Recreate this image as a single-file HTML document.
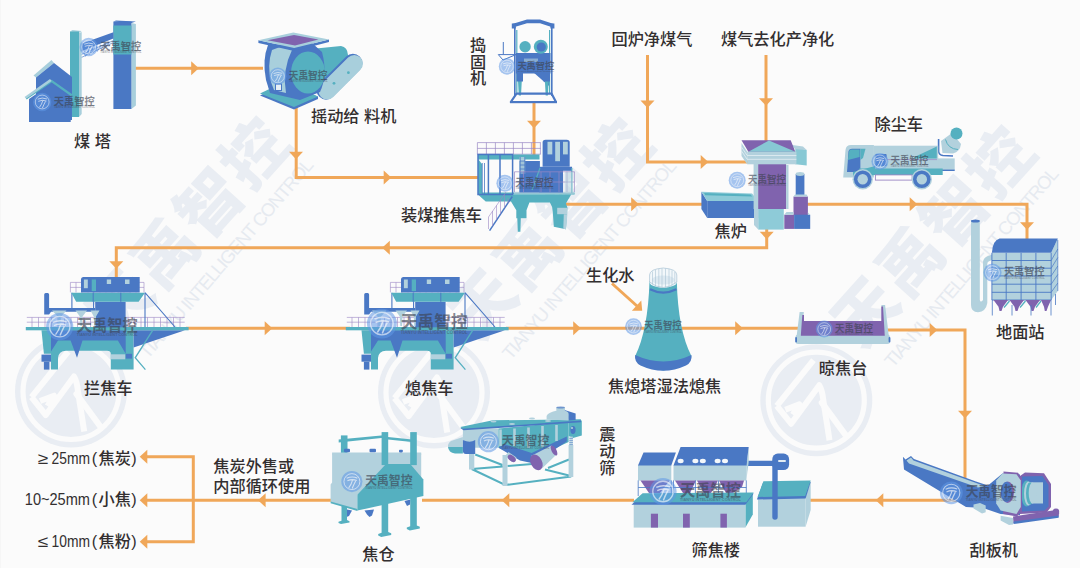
<!DOCTYPE html>
<html lang="zh-CN">
<head>
<meta charset="utf-8">
<title>炼焦工艺流程</title>
<style>
html,body{margin:0;padding:0;background:#fbfbfb;}
body{width:1080px;height:568px;overflow:hidden;}
svg{display:block;}
.lb{font-family:"Liberation Sans","Noto Sans CJK SC",sans-serif;font-size:16.2px;font-weight:500;fill:#332f30;}
.lt{font-weight:400;}
.b{fill:#4a78c4}.t{fill:#55b0c0}.l{fill:#b2d1dd}.p{fill:#8063ae}
.bs{fill:none;stroke:#4a78c4}.ts{fill:none;stroke:#55b0c0}.ps{fill:none;stroke:#9a86c4}.ls{fill:none;stroke:#b2d1dd}
.ln{fill:none;stroke:#f0a759;stroke-width:3;stroke-linejoin:miter;}
.ah{fill:#f0a759;}
.wmt{font-family:"Liberation Sans","Noto Sans CJK SC",sans-serif;font-weight:900;font-size:64px;letter-spacing:3px;fill:#e9edf3;}
.wme{font-family:"Liberation Sans",sans-serif;font-size:18.5px;fill:#e6eaf0;}
.sm{font-family:"Liberation Sans","Noto Sans CJK SC",sans-serif;font-weight:700;font-size:9.8px;fill:#3d4250;opacity:.62;}
.sme{font-family:"Liberation Sans",sans-serif;font-weight:700;font-size:2.6px;fill:#3d4250;opacity:.45;}
</style>
</head>
<body>
<svg width="1080" height="568" viewBox="0 0 1080 568">
<defs>
  <g id="wm">
    <circle cx="0" cy="0" r="56" fill="#e9edf3"/>
    <circle cx="0" cy="0" r="48" fill="none" stroke="#fbfbfb" stroke-width="5.2"/>
    <path d="M-39.5,5.7 L-2.8,-40 M-39.5,5.7 L-25.2,23.5 L3,-15 Q6,-10 7,0 L13.2,40 M-31,9.5 L-17,4.2 L-23.5,14.5" fill="none" stroke="#fbfbfb" stroke-width="6" stroke-linejoin="round"/>
    <path d="M5.5,2.5 L29.7,35.5" fill="none" stroke="#fbfbfb" stroke-width="6.2" stroke-linecap="round"/>
    <g transform="translate(44.9,-49.3) rotate(-48)">
      <text class="wmt" x="0" y="0">天禹智控</text>
      <text class="wme" transform="translate(8.2,35.5) rotate(-1.4)" x="0" y="0" textLength="256" lengthAdjust="spacing">TIANYU INTELLIGENT CONTROL</text>
    </g>
  </g>
  <g id="swm">
    <circle cx="0" cy="0" r="8.5" fill="#5f97e6" opacity=".55"/>
    <circle cx="0" cy="0" r="6.4" fill="none" stroke="#fbfbfb" stroke-width=".8" opacity=".6"/>
    <path d="M-4.2,-2.6 Q0,-4.6 4.4,-2.8 M-3.6,-0.6 Q0,-2.4 4,-0.9 M0.6,-1.4 Q-0.5,2.5 -2.6,5 M3,-0.5 Q1.2,3 0.2,5.6" stroke="#fbfbfb" stroke-width=".9" fill="none" opacity=".65"/>
    <text class="sm" x="10.7" y="2.7" textLength="38" lengthAdjust="spacingAndGlyphs">天禹智控</text>
    <text class="sme" x="10.7" y="6" textLength="38" lengthAdjust="spacingAndGlyphs">TIANYU INTELLIGENT CONTROL</text>
  </g>
  <path id="ar" d="M0.3,0 L-7.3,-7 L-7.3,7 Z" class="ah"/>
</defs>

<rect x="0" y="0" width="1080" height="568" fill="#fbfbfb"/>
<rect x="0" y="0" width="1" height="568" fill="#f6f6f6"/>

<!-- big watermarks -->
<g id="watermarks">
  <use href="#wm" x="71" y="391.5"/>
  <use href="#wm" x="434" y="392.5"/>
  <use href="#wm" x="816.3" y="400.2"/>
</g>

<!-- flow lines -->
<g id="lines">
  <path class="ln" d="M135,68.3 H263"/>
  <path class="ln" d="M296.2,106 V177.5 H478"/>
  <path class="ln" d="M534,103 V156"/>
  <path class="ln" d="M647.5,55 V162 H748"/>
  <path class="ln" d="M766,55 V142"/>
  <path class="ln" d="M566,204.3 H703"/>
  <path class="ln" d="M806,204.3 H1027 V240"/>
  <path class="ln" d="M766.7,228 V247.7 H116.3 V279"/>
  <path class="ln" d="M186,328.3 H350"/>
  <path class="ln" d="M506,328.3 H800"/>
  <path class="ln" d="M886,330 H965 V478"/>
  <path class="ln" d="M985,500.3 H808"/>
  <path class="ln" d="M634,500.3 H422"/>
  <path class="ln" d="M332,500.3 H193.3"/>
  <path class="ln" d="M146,456.7 H193.3 V541.7 H146"/>
  <path class="ln" d="M146,500.3 H193.3"/>
  <path class="ln" d="M612,283.5 L637,306"/>
</g>
<g id="arrows">
  <use href="#ar" transform="translate(198.5,68.3)"/>
  <use href="#ar" transform="translate(296,159) rotate(90)"/>
  <use href="#ar" transform="translate(391,177.5)"/>
  <use href="#ar" transform="translate(534,128) rotate(90)"/>
  <use href="#ar" transform="translate(647.5,107.7) rotate(90)"/>
  <use href="#ar" transform="translate(708,162)"/>
  <use href="#ar" transform="translate(766,105.5) rotate(90)"/>
  <use href="#ar" transform="translate(638.5,204.3)"/>
  <use href="#ar" transform="translate(917,204.3)"/>
  <use href="#ar" transform="translate(1027,229.5) rotate(90)"/>
  <use href="#ar" transform="translate(766.7,239) rotate(90)"/>
  <use href="#ar" transform="translate(382.5,247.7) rotate(180)"/>
  <use href="#ar" transform="translate(116.3,268.5) rotate(90)"/>
  <use href="#ar" transform="translate(272,328.3)"/>
  <use href="#ar" transform="translate(580.5,328.3)"/>
  <use href="#ar" transform="translate(742.5,328.3)"/>
  <use href="#ar" transform="translate(937,330)"/>
  <use href="#ar" transform="translate(965,418) rotate(90)"/>
  <use href="#ar" transform="translate(876,500.3) rotate(180)"/>
  <use href="#ar" transform="translate(502,500.3) rotate(180)"/>
  <use href="#ar" transform="translate(258.3,500.3) rotate(180)"/>
  <use href="#ar" transform="translate(140,456.7) rotate(180)"/>
  <use href="#ar" transform="translate(140,500.3) rotate(180)"/>
  <use href="#ar" transform="translate(140,541.7) rotate(180)"/>
  <use href="#ar" transform="translate(642,310.5) rotate(42)"/>
</g>

<!-- EQUIPMENT -->
<g id="equip">
<!-- coal tower -->
<g id="coaltower">
  <polygon points="131.4,23 135.9,24 135.9,105.5 131.4,109" fill="#a8cfdc"/>
  <rect x="113.4" y="21.6" width="18" height="87.4" fill="#4a78c4"/>
  <rect x="113.4" y="25.5" width="18" height="29" fill="#55b0c0"/>
  <polygon points="113.4,21.6 116,20.5 135.9,21.5 131.4,23" fill="#4a78c4"/>
  <polygon points="81.3,43.8 113.4,32.2 113.4,38.5 81.3,51.2" fill="#4a78c4"/>
  <path d="M81.3,54.5 L113.4,40.5 M81.3,57.5 L113.4,42.5 M84,50.5 l1.5,6 M88,49 l1.5,6 M92,47.5 l1.5,5.5 M96,46 l1.5,5.5 M100,44.5 l1.5,5 M104,43 l1.5,5 M108,41.5 l1.5,4.5 M86,55.5 l2.5,-6 M90,54 l2.5,-6 M94,52 l2.5,-5.5 M98,50.5 l2.5,-5.5 M102,48.5 l2.5,-5 M106,47 l2.5,-5" stroke="#5b86cc" stroke-width=".7" fill="none"/>
  <polygon points="79,33 81.7,32 81.7,114 79,117" fill="#a8cfdc"/>
  <polygon points="70,31.5 72.5,30 81.7,31 79,33" fill="#a8cfdc"/>
  <rect x="70" y="31.5" width="9" height="85.5" fill="#55b0c0"/>
  <polygon points="33.5,75.5 51.5,60 54,63 36,77.5" fill="#a8cfdc"/>
  <polygon points="36,77.5 54,63 72,77 72,120 36,120" fill="#4a78c4"/>
  <polygon points="29,99 51.7,83.5 70.7,97.5 70.7,122 29,122" fill="#4a78c4"/>
  <path d="M26,98.5 L51.7,81 L72,95.5" stroke="#55b0c0" stroke-width="2.2" fill="none"/>
  <polygon points="24.5,97 50,79 51.7,81 26.5,98.5" fill="#a8cfdc"/>
</g>
<!-- feeder -->
<g id="feeder">
  <!-- motor cylinder -->
  <path d="M316,48.5 L341,46 Q347.5,47 348,55 L350,80 L322,92 Z" fill="#55b0c0"/>
  <!-- belt guard -->
  <g transform="translate(340.7,77.2) rotate(-45)">
    <rect x="-29" y="-10.7" width="57" height="19" rx="9.5" fill="#4a78c4"/>
    <rect x="-27.9" y="-8.7" width="55.8" height="17.4" rx="8.7" fill="#a8cfdc"/>
  </g>
  <circle cx="348.4" cy="72.7" r="1.4" fill="#55b0c0"/>
  <circle cx="334" cy="83.3" r="1.4" fill="#55b0c0"/>
  <!-- base -->
  <polygon points="260,95.5 294,109.5 318,99 318,96.5 284,84" fill="#4a78c4"/>
  <polygon points="260,93.5 294,107 318,96.5 284,82" fill="#55b0c0"/>
  <!-- body -->
  <path d="M268,45 Q262,60 266,80 L270,93 L300,100 L320,92 Q328,75 322,52 L312,43 Z" fill="#4a78c4"/>
  <path d="M272,50 Q267,65 271,82 L274,90 L286,93 Q282,70 292,50 L280,47 Z" fill="#a8cfdc"/>
  <rect x="275.5" y="84" width="6" height="6.5" fill="#e8f0f6" stroke="#4a78c4" stroke-width="1"/>
  <ellipse cx="308" cy="72.5" rx="17" ry="21" fill="#55b0c0"/>
  <!-- top flange -->
  <polygon points="258.4,40.3 294.2,48 329,39.4 329,42 294.2,51 258.4,43" fill="#4a78c4"/>
  <polygon points="258.4,40.3 293.3,32.6 329,39.4 294.2,48" fill="#a8cfdc"/>
  <polygon points="267.5,40.3 294,35 318.5,39.5 295,45.6" fill="#8063ae"/>
</g>
<!-- tamping machine -->
<g id="tamper">
  <path class="bs" stroke-width="1.6" d="M514.8,27 V96 M551.8,27 V96"/>
  <path class="ts" stroke-width="1.2" d="M516.8,30 V94 M549.6,30 V94"/>
  <path class="b" d="M512.2,27.8 V24 L527,19.6 H540 L553.8,24 V27.8 L540,23.3 H527 Z"/>
  <rect class="b" x="511.8" y="23.5" width="4" height="5"/><rect class="b" x="550.4" y="23.5" width="4" height="5"/>
  <path class="bs" stroke-width="1" d="M503.3,42 V54.4 M498.3,54.6 H516 L503,60 Z"/>
  <rect class="b" x="515.9" y="53" width="34.6" height="20.5"/>
  <circle class="t" cx="525.1" cy="46.8" r="5.7"/>
  <circle class="t" cx="540.8" cy="46.8" r="7"/><circle class="b" cx="541.3" cy="47" r="4.6"/>
  <rect class="l" x="524" y="58.5" width="14" height="3.5" opacity=".6"/>
  <path class="b" d="M533,72 L549,72 L549,86 Z"/>
  <path class="t" d="M517.6,73.5 h4.6 l-1.2,22 h-2.2 Z M544.5,73.5 h4.6 l-1.2,22 h-2.2 Z"/>
  <rect class="b" x="516.5" y="72.5" width="6.5" height="9"/><rect class="b" x="543.5" y="72.5" width="6.5" height="9"/>
  <path class="bs" stroke-width="2.2" stroke-linejoin="round" d="M516.5,93.6 H551.5 L556,102 H510.8 Z"/>
  <rect class="b" x="510" y="101" width="47" height="2.2"/>
</g>
<!-- coal charging / pushing car -->
<g id="charger">
  <!-- upper railing -->
  <path class="ps" stroke-width=".7" d="M477.4,142.6 H540.7 M477.4,148.4 H540.7 M477.4,154.2 H540.7 M477.4,142.6 V154.2 M486.4,142.6 V154.2 M495.4,142.6 V154.2 M504.4,142.6 V154.2 M513.4,142.6 V154.2 M522.4,142.6 V154.2 M531.4,142.6 V154.2 M540.4,142.6 V154.2"/>
  <!-- platform teal -->
  <path class="t" d="M478.5,194.6 H574.6 V192.6 H478.5 Z"/>
  <path class="t" d="M477.9,194.6 L485.7,201.5 H511 L516.3,210.3 V218.2 H517.3 L517.8,231.7 H520.4 L520.8,218.2 H526.5 V210.3 L529.4,202.5 H549.9 Q552.5,206 552.8,212 L553.8,226.8 L565.9,229.2 L567.4,207.4 L565.9,203.5 L571.2,194.6 Z"/>
  <rect class="l" x="557.2" y="207.8" width="10.2" height="6.4"/>
  <polygon class="l" points="563.8,214.2 567.4,214.2 566,229.2 563.3,228.7"/>
  <rect class="l" x="513.9" y="191.8" width="60.6" height="1.9"/>
  <!-- left frame -->
  <rect class="t" x="478" y="154.5" width="61.5" height="5"/>
  <path class="t" d="M478,159 l4,5 V194 h-4 Z"/>
  <path class="bs" stroke-width="1.5" d="M478,154.5 V194.6 H512.6 V154.5 Z M488.4,155 V194 M500,155 V194"/>
  <path class="bs" stroke-width=".8" d="M482.3,163 V194 M484.5,163 V194"/>
  <!-- middle block -->
  <rect class="b" x="519.4" y="161" width="20.5" height="31.5"/>
  <rect class="b" x="539.5" y="170" width="23.5" height="22.6"/>
  <rect class="l" x="519.4" y="157" width="5.8" height="17" opacity=".85"/>
  <path class="bs" stroke-width=".8" d="M520.2,157 V192 M524.8,157 V192 M520,161 h5 M520,165 h5 M520,169 h5 M520,173 h5 M520,177 h5 M520,181 h5 M520,185 h5"/>
  <!-- cabin -->
  <path class="b" d="M542.6,142.5 Q542.6,139.7 545.5,139.7 H566.7 Q569.7,139.7 569.7,142.5 V166.8 H542.6 Z"/>
  <rect class="b" x="539.5" y="166.8" width="32.5" height="4"/>
  <rect class="l" x="547.5" y="141.8" width="4.8" height="12.6"/><rect class="l" x="555.2" y="141.8" width="4.8" height="19.4"/><rect class="l" x="563" y="141.8" width="4.8" height="12.6"/>
  <path class="ts" stroke-width="1.2" d="M540,168 L532,190 M571.8,168 V192.6"/>
  <!-- lower railing -->
  <path class="ps" stroke-width=".7" d="M514.5,171.8 H574.6 M514.5,182 H574.6 M514.5,171.8 V192 M523.5,171.8 V192 M541,171.8 V192 M550,171.8 V192 M559,171.8 V192 M567,171.8 V192 M574.4,171.8 V192"/>
  <rect class="l" x="565" y="172" width="8" height="20" opacity=".5"/>
  <!-- stairs -->
  <path class="bs" stroke-width="1.5" d="M512.3,196.5 L489.6,230.7"/>
  <path class="ps" stroke-width=".6" d="M506,192 L488.5,217 V229 M492.5,211 V226 M496.5,205.5 V220 M500.5,200 V214 M504.5,194.5 V208 M508,198 V203"/>
</g>
<!-- coke oven -->
<g id="oven">
  <!-- trough -->
  <polygon class="b" points="701.4,191.8 707.2,201 707.2,218 701.4,209"/>
  <polygon fill="#8ecbd8" points="701.4,191.8 752,193.5 758.2,201 707.2,201"/>
  <polygon fill="#55b0c0" points="704,193 750.5,194.6 752.3,196.6 705.3,195.2"/>
  <rect class="b" x="707.2" y="201" width="51" height="17"/>
  <!-- base -->
  <rect fill="#8ecbd8" x="758.2" y="209" width="25.6" height="20.6"/>
  <polygon class="l" points="754,205 758.2,209 758.2,229.6 754,225"/>
  <!-- main column -->
  <rect class="l" x="753.6" y="163" width="5" height="46"/>
  <rect class="p" x="758.2" y="163.5" width="27.9" height="45.5"/>
  <rect class="l" x="786.1" y="165" width="2.4" height="44"/>
  <!-- right wing -->
  <polygon fill="#87c8d4" points="795.3,147.2 806.7,150 806.7,165.5 795.3,164.3"/>
  <polygon class="l" points="790.7,144.8 803,146.6 806.7,150 795.3,149.2"/>
  <!-- entablature -->
  <polygon class="l" points="741.5,143 747.2,151.7 747.2,164.3 741.5,156"/>
  <rect class="l" x="747.2" y="151.7" width="49.2" height="12.6"/>
  <path d="M747.2,155.5 H796.4 M747.2,159.3 H796.4 M741.5,147 L747.2,155.5 M741.5,151 L747.2,159.3" stroke="#e4eff4" stroke-width=".8" fill="none"/>
  <!-- roof -->
  <polygon class="p" points="741.5,140.3 790.7,140.3 795.3,151.7 748.4,151.7"/>
  <polygon fill="#87c8d4" points="748.4,151.7 769,140.5 795.3,151.7"/>
  
  <!-- cylinder -->
  <rect class="b" x="795.7" y="174" width="8.7" height="22"/>
  <ellipse class="l" cx="800.05" cy="174" rx="4.35" ry="1.9"/>
  <!-- purple box -->
  <rect class="p" x="793.5" y="196.5" width="14.4" height="18.5"/>
  <polygon class="l" points="793.5,196.5 795,194.5 806.5,194.5 807.9,196.5"/>
  <!-- bottom boxes -->
  <rect class="p" x="784.3" y="214.7" width="9.8" height="14.2"/>
  <rect class="b" x="794.1" y="214.7" width="16.1" height="14.2"/>
  <polygon class="l" points="784.3,214.7 786.5,212 793.5,212 793.5,214.7"/>
  <polygon class="l" points="807.9,212.6 810.2,214.7 807.9,214.7"/>
</g>
<!-- dust truck -->
<g id="truck">
  <!-- cannon -->
  <path class="l" d="M941,141 L952,133 L961,144 Q960,152 953,153.5 L942.5,153 Z"/>
  <path class="ts" stroke-width="1" d="M945.5,139.5 Q948,149 958,149.5"/>
  <circle class="t" cx="956.5" cy="133.5" r="6"/>
  <path class="bs" stroke-width="1.6" d="M938.6,139 V151.5 Q939,155 943,155.5 L953,156"/>
  <!-- rear platform -->
  <rect class="l" x="936" y="158.4" width="18.7" height="11.6"/>
  <rect class="b" x="936" y="169.6" width="18.7" height="1.4"/>
  <!-- body -->
  <rect class="l" x="873.5" y="145.7" width="64.7" height="23.5"/>
  <polygon class="t" points="914.5,157 936.8,146.4 936.8,158.6 914.5,158.6"/>
  <rect class="b" x="875.4" y="153.9" width="11.2" height="12" rx="1"/>
  <path class="ps" stroke-width=".7" d="M887,159.6 H937"/>
  <!-- cab -->
  <path class="l" d="M843.2,177.5 L845.5,150 Q846,145 851,145 H873.9 V177.5 Z"/>
  <path class="b" d="M847,171.9 L848.5,151.5 Q849,148.7 852,148.7 H860.4 V171.9 Z"/>
  <path class="t" d="M847.9,160 L848.9,151.8 Q849.3,149.6 851.5,149.6 H859.6 V157 Z"/>
  <polygon class="t" points="860.4,148.7 865.5,148.7 863,158 860.4,160"/>
  <!-- teal stripe -->
  <path class="t" d="M859,168.6 H942.7 V174.9 H862 Z"/>
  <polygon class="t" points="853,172 875,166 875,175 853,178"/>
  <rect class="ps" x="875.4" y="174.9" width="36.7" height="5.2" stroke-width=".9" fill="#fbfbfb"/>
  <!-- wheels -->
  <circle cx="862.7" cy="179.3" r="10.2" fill="#b2d1dd"/><circle class="b" cx="862.7" cy="179.3" r="8.8"/><circle class="l" cx="862.7" cy="179.3" r="5.2"/>
  <circle cx="921.8" cy="179.3" r="10.2" fill="#b2d1dd"/><circle class="b" cx="921.8" cy="179.3" r="8.8"/><circle class="l" cx="921.8" cy="179.3" r="5.2"/>
</g>
<!-- ground station -->
<g id="ground">
  <!-- chimney -->
  <path class="l" d="M971,220.5 H979.8 V300 Q980.5,303 983,300 V262 Q983.5,257.5 988,256 L992,254.5 V260 L988.5,261.5 Q987.3,262 987.3,264 V303 Q986,311.5 978,312.3 Q971,312 971,305 Z"/>
  <ellipse class="b" cx="975.4" cy="220.9" rx="4.4" ry="1.5"/>
  <!-- front grid -->
  <rect class="l" x="991.9" y="252.8" width="59.3" height="47.2"/>
  <polygon class="l" points="1051.2,252.8 1057.8,238.5 1057.8,291 1051.2,300"/>
  <path class="bs" stroke-width=".9" d="M991.9,252.8 V300 M1006.2,252.8 V300 M1021.1,252.8 V300 M1035.9,252.8 V300 M1051.2,252.8 V300 M991.9,260.5 H1051.2 M991.9,268.2 H1051.2 M991.9,275.9 H1051.2 M991.9,284.2 H1051.2 M991.9,292.3 H1051.2 M991.9,300 H1051.2"/>
  <path class="bs" stroke-width=".7" d="M1051.2,260.5 L1057.8,249 M1051.2,268.2 L1057.8,257.5 M1051.2,275.9 L1057.8,266 M1051.2,284.2 L1057.8,274.5 M1051.2,292.3 L1057.8,283 M1057.8,240 V291"/>
  <!-- roof -->
  <path class="b" d="M991.9,252.8 Q992.5,240.5 999.5,238.5 H1057.8 L1051.2,252.8 Z"/>
  <!-- hoppers -->
  <polygon class="p" points="993.5,300 1008,300 1003,306.8 1001.5,311 999.5,311 998.5,306.8"/>
  <polygon class="p" points="1009.5,300 1024,300 1019,306.8 1017.5,311 1015.5,311 1014.5,306.8"/>
  <polygon class="p" points="1025.5,300 1040,300 1035,306.8 1033.5,311 1031.5,311 1030.5,306.8"/>
  <polygon class="p" points="1041,300 1051,300 1048,306.8 1046.5,311 1044.8,311 1044,306.8"/>
  <path class="ts" stroke-width="1.3" d="M1009.5,301 L1004,307.5 M1025.5,301 L1020,307.5 M1041,301 L1036,307.5"/>
  <path class="bs" stroke-width=".8" d="M992.3,300 V315.5 M1012,305 V315.5 M1031,305 V315.5 M1051,300 V315.5 M1055.5,294 V305"/>
</g>
<!-- quench tower -->
<g id="tower">
  <path class="t" d="M649.5,281 Q648,330 635.2,356 Q635,366 663.3,370.6 Q691.6,366 691.4,356 Q678,330 676.8,281 Z"/>
  <path class="b" d="M635.2,355 Q663.3,368 691.4,355 Q692.5,362 686,365.5 Q663.3,376 640.5,365.5 Q634,362 635.2,355 Z"/>
  <path class="bs" stroke-width="2.2" d="M650,289.3 Q663.2,296 676.4,289.3"/>
  <ellipse cx="663.2" cy="282" rx="13.6" ry="5.8" fill="#eef4f8"/>
  <path d="M649.6,275 V282 Q663.2,293 676.8,282 V275 Q676.8,269 663.2,268 Q649.6,269 649.6,275 Z" fill="#f2f7fa" stroke="#a9c3d4" stroke-width=".7"/>
  <ellipse cx="663.2" cy="280" rx="11.5" ry="4.6" fill="#dde9f1"/>
  <path d="M652.5,271.5 V284.5 M655.5,270 V286 M658.8,269 V287 M662,268.5 V287.5 M665.5,268.5 V287.5 M669,269 V287 M672,270.5 V285.5 M674.8,272 V284" stroke="#a9c3d4" stroke-width=".6" fill="none"/>
</g>
<!-- drying platform -->
<g id="platform">
  <rect class="l" x="795.6" y="334.5" width="94.3" height="9.4" rx="2.5"/>
  <rect class="b" x="795.2" y="337" width="1.8" height="5.5" rx=".9"/><rect class="b" x="888.6" y="337" width="1.8" height="5.5" rx=".9"/>
  <polygon class="l" points="799.6,312 803.8,312 802,336 796.6,336"/>
  <polygon class="l" points="881.4,305 885.1,305 888.8,336 884.5,336"/>
  <polygon class="p" points="802.3,315 804,315 804,321.1 881.3,321.1 881.3,306.5 883,306.5 884.8,335.8 800.8,335.8"/>
</g>
<!-- guide car template -->
<defs>
<g id="car">
  <!-- under-deck structure -->
  <path class="t" d="M41.5,330.3 H133.6 V369.6 H110.8 V354 Q110.8,350.7 107,350.7 H66 Q58.5,351 58,358 V369.6 H51 V353.8 H43.9 Z"/>
  <polygon class="b" points="51,330.3 125.7,330.3 125.7,353.8 117.9,340.5 82.5,340.5 77,357.8 70.6,340.5 58,340.5 51,351.5"/>
  <polygon class="b" points="133.6,330.3 185,330.3 133.6,347.5"/>
  <rect class="b" x="125.7" y="353.8" width="6.3" height="4.8"/>
  <rect class="l" x="110.8" y="354.3" width="14.4" height="5"/>
  <rect class="b" x="41.5" y="354.6" width="9.5" height="7.1"/><rect class="b" x="43.9" y="361.7" width="5.5" height="7.9"/>
  <path class="ts" stroke-width="1.3" d="M152.5,330.7 L135.2,357.8 L145.4,369.6"/>
  <!-- deck -->
  <rect class="t" x="25.8" y="327" width="162.8" height="3.3"/>
  <!-- lower railing -->
  <path class="ps" stroke-width=".6" d="M26.8,317.4 H184.7 M26.8,322.2 H184.7 M32,317.4 V327 M38.5,317.4 V327 M45,317.4 V327 M51.5,317.4 V327 M58,317.4 V327 M64.5,317.4 V327 M71,317.4 V327 M77.5,317.4 V327 M84,317.4 V327 M90.5,317.4 V327 M128,317.4 V327 M134.5,317.4 V327 M141,317.4 V327 M147.5,317.4 V327 M154,317.4 V327 M160.5,317.4 V327 M167,317.4 V327 M173.5,317.4 V327 M180,317.4 V327"/>
  <!-- central block -->
  <rect class="b" x="95.2" y="301.8" width="30.4" height="25.5"/>
  <!-- exhaust and bar -->
  <path class="b" d="M44.2,294.6 Q44.2,293.1 45.7,293.1 H47.6 Q49.1,293.1 49.1,294.6 V308 H95.2 V311.8 H51 L49.1,314.4 H44.2 Z"/>
  <!-- funnels -->
  <polygon class="l" points="52,310.5 66.5,310.5 61,316.5 60.3,326 58.3,326 57.6,316.5"/>
  <polygon class="l" points="75.5,310.5 87,310.5 82.5,316.5 82,326 80.3,326 79.8,316.5"/>
  <polygon class="l" points="90.5,310.5 99.5,310.5 96,316.5 95.6,326 94.2,326 93.8,316.5"/>
  <!-- frame verticals -->
  <path class="bs" stroke-width="1.1" d="M71.9,292.7 V309 M93.6,292.7 V309 M145,292.7 V327 M145,292.7 L175,327"/>
  <!-- teal upper deck -->
  <polygon class="t" points="71.3,292.7 145,292.7 138.6,301.8 76.2,301.8"/>
  <path class="bs" stroke-width="1" d="M93.2,292.7 V301.8 M120.8,292.7 V301.8"/>
  <!-- upper railing -->
  <path class="ps" stroke-width=".6" d="M70.4,282.4 H144 V292.4 M70.4,282.4 V292.4 M70.4,287.4 H144 M76,282.4 V292.4 M82,282.4 V292.4 M88,282.4 V292.4 M94,282.4 V292.4 M100,282.4 V292.4 M106,282.4 V292.4 M112,282.4 V292.4 M118,282.4 V292.4 M124,282.4 V292.4 M130,282.4 V292.4 M136,282.4 V292.4"/>
  <!-- cabin -->
  <path class="b" d="M81,279.5 Q81,277 83.5,277 H139.7 V292.4 H81 Z"/>
  <rect class="l" x="83.9" y="279.5" width="3.9" height="8.7"/><rect class="t" x="91.7" y="279.5" width="4.3" height="11.6"/>
  <rect class="l" x="106.8" y="279.5" width="4.3" height="4.5"/><rect class="l" x="125" y="279.5" width="4.5" height="4.5"/>
</g>
</defs>
<use href="#car" x="0" y="0"/>
<use href="#car" x="320" y="0"/>

<!-- scraper conveyor -->
<g id="scraper">
  <polygon class="l" points="1000.6,515.7 1013,518 1013,524.5 1009,525 1000.6,520.5"/>
  <polygon class="b" points="902.9,456.7 905.5,459.5 911,456 914,459 976,481.5 988,485.5 1002.4,473.5 1020,474.5 1020,515 1000.6,514 983,508 966,507 904,469.5"/>
  <polygon class="l" points="906.5,460.5 911,457.5 913.5,460.5 984.5,486 978,487.5 909,463.5"/>
  <polygon class="l" points="973.5,504.5 980,503 985.7,505.5 985.7,512.2 982,513.5 973.5,508.5"/>
  <!-- motor housing -->
  <polygon class="p" points="1025,472.5 1044,473.3 1051,484 1051,507 1046.5,512.5 1020,514 1020,476"/>
  <polygon class="b" points="1022,476.5 1042.5,476 1048.5,485 1048.5,506.5 1044.5,510.5 1022,511.5"/>
  <rect class="l" x="1027" y="482.3" width="16" height="21.2"/>
  <ellipse class="t" cx="1026.5" cy="493.5" rx="5.2" ry="13"/>
  <ellipse class="l" cx="1028.5" cy="493.5" rx="4.5" ry="12"/>
  <ellipse class="t" cx="1030" cy="493.5" rx="4" ry="11.2"/>
  <ellipse class="l" cx="1032.5" cy="493" rx="3.8" ry="10.6"/>
  <!-- head frame -->
  <polygon class="p" points="1003.5,471.5 1018,472.7 1022,479 1022,511 1017,516.5 1003,514"/>
  <polygon class="l" points="1002.4,473.5 1016.5,474.3 1020.8,480.5 1020.8,507 1016.5,514 1000.6,510.4 996.2,503.4 996.2,480.5"/>
  <ellipse class="p" cx="1007.6" cy="492.2" rx="6.4" ry="10.8"/>
  <ellipse class="b" cx="1006.5" cy="492" rx="5.6" ry="10.2"/>
  <!-- base -->
  <polygon class="p" points="1013,516.5 1056,510 1059,513.5 1058.7,516.5 1013.5,523"/>
  <polygon class="b" points="1013.5,521.5 1058.7,515.5 1058.7,517.8 1013.5,524"/>
  <circle class="p" cx="1056" cy="511.8" r="3.2"/>
</g>
<!-- screening building -->
<g id="screenbld">
  <!-- right box -->
  <polygon class="l" points="805.6,497 810.7,481 810.7,510 805.6,526.7"/>
  <rect class="l" x="758" y="497.5" width="47.6" height="29.2"/>
  <polygon class="b" points="756.9,499.5 763,482.8 810.7,481.9 805.6,498.5"/>
  <polygon class="t" points="757.6,497 763.4,481.3 810.7,480.4 805.2,496"/>
  <!-- pipe -->
  <path class="bs" stroke-width="5.4" stroke-linecap="round" d="M747,463.4 H774 M775,517 V462"/>
  <rect class="b" x="772.3" y="453.6" width="16.8" height="16.4" rx="5.5"/>
  <rect x="778" y="460" width="8" height="2" rx="1" fill="#e3edf3"/>
  <!-- upper right block -->
  <polygon class="l" points="746.3,465.6 748.7,447 748.7,462 746.3,480.4"/>
  <rect class="l" x="673.5" y="465" width="72.8" height="15.6"/>
  <polygon class="b" points="673.5,465.6 680.6,447 748.7,447 746.3,465.6"/>
  <ellipse cx="680.6" cy="461" rx="3" ry="2.2" fill="#f4f8fb"/><ellipse cx="695.4" cy="461" rx="3" ry="2.2" fill="#f4f8fb"/><ellipse cx="702.8" cy="461" rx="3" ry="2.2" fill="#f4f8fb"/><ellipse cx="717.6" cy="461" rx="3" ry="2.2" fill="#f4f8fb"/><ellipse cx="725" cy="461" rx="3" ry="2.2" fill="#f4f8fb"/>
  <!-- upper left block -->
  <rect class="l" x="638" y="465" width="33.3" height="15.6"/>
  <polygon class="b" points="638,465.6 643.5,452.6 675.9,452.6 671.3,465.6"/>
  <!-- hoppers -->
  <polygon class="p" points="640.5,480.4 669.5,480.4 660,493 649,493"/>
  <polygon class="p" points="675,480.4 696,480.4 690,493 683,493"/>
  <polygon class="p" points="697,480.4 718,480.4 711,493 704,493"/>
  <polygon class="p" points="719,480.4 744,480.4 742,487 733,493 726,493"/>
  <path class="bs" stroke-width=".8" d="M638.2,480.4 V496 M671.3,480.4 V496 M673.5,480.4 V496 M695.4,480.4 V494 M718.5,480.4 V494 M746.3,480.4 V494 M638.2,487.5 H746.3"/>
  <!-- lower building -->
  <polygon class="t" points="745.4,503.5 752.8,493.3 752.8,514.6 745.4,527.6"/>
  <rect class="l" x="633.7" y="503" width="111.7" height="24.6"/>
  <polygon class="b" points="631.5,504.8 642.6,494.3 753.7,493.4 745.4,504.8"/>
  <polygon class="t" points="632.5,502.3 642.6,493.3 753.7,492.4 746.3,502.3"/>
  <rect class="p" x="650.9" y="513.7" width="7.1" height="13.9"/><rect class="p" x="683" y="513.7" width="6.8" height="13.9"/><rect class="p" x="720.4" y="513.7" width="6.5" height="13.9"/>
</g>
<!-- vibrating screen -->
<g id="vscreen">
  <!-- frame -->
  <path class="ts" stroke-width="2" d="M471.7,469 L505.2,485 L571.2,476.5 M475.2,454.5 L502.5,465 M507.5,466 L532,464 M548,468 L569,459.5 M471.7,469 L503,466.5 M545,469.5 L571,476"/>
  <rect class="l" x="469" y="453" width="5.3" height="16.5"/>
  <rect class="l" x="502.5" y="455" width="5" height="31"/>
  <rect class="l" x="568.6" y="445" width="4.7" height="32"/>
  <!-- left spout -->
  <path class="l" d="M462.9,437 L451,441 Q447.5,443.5 448,447 H462.9 Z"/>
  <path class="t" d="M448,447 H462.9 V453.5 H455 Q448.5,452.5 448,447 Z"/>
  <!-- body -->
  <polygon class="l" points="462.9,428.5 498.5,428.5 498.5,447.8 475.2,447.8 462.9,440"/>
  <path class="b" d="M462.9,440 Q470,443.5 475.2,440 V454 H466 Q462.9,454 462.9,450.5 Z"/>
  <polygon class="t" points="498.5,428.5 568.6,422 568.6,442 547,452 531.6,462 498.5,447.8"/>
  <polygon class="b" points="498.5,447.8 504,444 531.6,453 566.8,436.5 566.8,441.5 544,456.5 531.6,463 520,460.5"/>
  <path class="ls" stroke-width="2.6" d="M500.5,429.5 V446 M514.5,428.5 V446 M528.5,427.5 V448 M542.5,426 V447 M556.5,425 V441"/>
  <!-- cylinders -->
  <polygon class="l" points="508.5,452 516.5,457.5 512,462 505,456"/>
  <ellipse class="p" cx="511.8" cy="458.4" rx="4.6" ry="2.8" transform="rotate(38 511.8 458.4)"/>
  <polygon class="l" points="531,456 551.5,445.5 556,455 542.5,468"/>
  <ellipse class="p" cx="536.4" cy="462.3" rx="5.6" ry="8.4" transform="rotate(-28 536.4 462.3)"/>
  <ellipse class="p" cx="554" cy="450.5" rx="2.4" ry="5.6" transform="rotate(-28 554 450.5)"/>
  <!-- right end -->
  <polygon class="t" points="568.6,421.5 581.8,420.5 581.8,435.5 573,438 568.6,436"/>
  <ellipse class="b" cx="573" cy="430" rx="2.6" ry="4"/><circle class="l" cx="572" cy="428" r="1.1"/>
  <rect class="l" x="569.3" y="436.5" width="3.6" height="11" opacity=".8"/>
  <path class="bs" stroke-width=".5" d="M569.3,438.5 h3.6 M569.3,440.5 h3.6 M569.3,442.5 h3.6 M569.3,444.5 h3.6"/>
  <!-- deck -->
  <polygon class="b" points="460.3,428 492.8,421.2 580.9,420 581,422.3 463.5,430.3"/>
  <polygon class="t" points="460.3,427 492.8,420.3 580.9,419.3 580.9,420.6 462.5,428.8"/>
  <!-- inlet box -->
  <polygon class="b" points="563,409.5 575.6,413.5 575.6,420 568.6,420.5"/>
  <path class="l" d="M546.6,419.5 V416 Q548,412.5 556,410.8 H565 Q568.6,411.5 568.6,414 V420.5 Z"/>
  <rect class="l" x="556.3" y="407.3" width="8.7" height="4" rx="1"/>
  <ellipse class="b" cx="560.6" cy="407.5" rx="4.3" ry="1" opacity=".7"/>
  <ellipse class="l" cx="493.5" cy="421.5" rx="3" ry="1.1"/><ellipse class="l" cx="512" cy="424" rx="3" ry="1.1"/><ellipse class="l" cx="532" cy="418.5" rx="3" ry="1.1"/><ellipse class="l" cx="548" cy="421" rx="3" ry="1.1"/>
</g>
<!-- silo -->
<g id="silo">
  <!-- back posts & rail -->
  <rect class="t" x="340.9" y="435.4" width="6.6" height="18"/>
  <polygon class="t" points="338.7,439.6 383.8,435.2 383.8,437.8 338.7,442.4"/>
  <polygon class="t" points="388,437 412,439.5 412,442 388,439.6"/>
  <!-- hopper cones -->
  <polygon class="b" points="342,508.5 352,510.5 349,516 346.5,517 344,514.5"/>
  <polygon class="b" points="364.5,510.5 374,509.5 372,515.5 369.5,517 367,514.5"/>
  <polygon class="b" points="404.5,501 410.5,499.5 410,504.5 407,506"/>
  <!-- legs under -->
  <path class="t" d="M341.5,506 h5.5 V520 l2.5,1.2 v1.3 l-8.5,1.6 l-2.5,-1.2 v-1.2 l3,-1 Z"/>
  <!-- light faces -->
  <rect class="l" x="332.1" y="452.5" width="89.1" height="2.2" fill="#55b0c0"/>
  <polygon class="l" points="332.1,453.8 421.2,453.8 421.2,480 357.4,494.8 357.4,510.2 332.1,502.5 330.6,501.5 330.6,484.5 332.1,482.5"/>
  <polygon class="t" points="330.6,501.5 357.4,509 357.4,511 330.6,503.2"/>
  <!-- small caps -->
  <rect class="b" x="344" y="448.8" width="6" height="3.4" rx="1"/><rect class="b" x="369.5" y="448.8" width="6.5" height="3.4" rx="1"/><rect class="b" x="399" y="449.8" width="3.8" height="2.6" rx=".8"/>
  <!-- teal front face -->
  <polygon class="t" points="357.4,494.8 386,464 410.2,464 423.4,479.4 423.4,495.9 357.4,510.6"/>
  <!-- front posts -->
  <rect class="t" x="381.6" y="432.1" width="6.6" height="33"/>
  <rect class="t" x="410.2" y="432.1" width="6.6" height="33"/>
  <path class="t" d="M381.6,503 h6.6 V532 l3,1.3 v1.6 l-10,2 l-3,-1.4 v-1.5 l3.4,-1.2 Z"/>
  <path class="t" d="M410.2,497 h6.6 V525.5 l3,1.3 v1.6 l-10,2 l-3,-1.4 v-1.5 l3.4,-1.2 Z"/>
</g>
<g id="smallwm">
  <use href="#swm" transform="translate(88.7,47) scale(1.08)"/>
  <use href="#swm" transform="translate(42.2,102) scale(1.08)"/>
  <use href="#swm" transform="translate(277.8,76.2) scale(1.02)"/>
  <use href="#swm" transform="translate(507,66.4) scale(0.97)"/>
  <use href="#swm" transform="translate(504.9,183.3) scale(1.0)"/>
  <use href="#swm" transform="translate(737.2,180.2) scale(1.0)"/>
  <use href="#swm" transform="translate(879.9,161.4) scale(1.0)"/>
  <use href="#swm" transform="translate(992.5,272.6) scale(1.07)"/>
  <use href="#swm" transform="translate(633.5,326.6) scale(0.99)"/>
  <use href="#swm" transform="translate(824.2,329.1) scale(1.0)"/>
  <use href="#swm" transform="translate(951.3,492.8) scale(1.34)"/>
  <use href="#swm" transform="translate(59.7,326.6) scale(1.6)"/>
  <use href="#swm" transform="translate(381.9,323.6) scale(1.76)"/>
  <use href="#swm" transform="translate(663,491.5) scale(1.6)"/>
  <use href="#swm" transform="translate(488.4,441.7) scale(1.25)"/>
  <use href="#swm" transform="translate(351.9,481.6) scale(1.245)"/>
</g>
<!--EQUIP_END-->
</g>

<!-- labels -->
<g id="labels">
  <text class="lb" x="74" y="147">煤 塔</text>
  <text class="lb" x="311" y="122">摇动给 料机</text>
  <text class="lb" x="470" y="51.3">捣</text>
  <text class="lb" x="470" y="67.8">固</text>
  <text class="lb" x="470" y="84.3">机</text>
  <text class="lb" x="611.5" y="45">回炉净煤气</text>
  <text class="lb" x="721" y="45">煤气去化产净化</text>
  <text class="lb" x="874.5" y="129.5">除尘车</text>
  <text class="lb" x="401" y="221">装煤推焦车</text>
  <text class="lb" x="714.5" y="237">焦炉</text>
  <text class="lb" x="996" y="338.2">地面站</text>
  <text class="lb" x="84" y="394">拦焦车</text>
  <text class="lb" x="405" y="394">熄焦车</text>
  <text class="lb" x="586" y="281">生化水</text>
  <text class="lb" x="608" y="392">焦熄塔湿法熄焦</text>
  <text class="lb" x="818.8" y="374">晾焦台</text>
  <text class="lb" x="599.3" y="440">震</text>
  <text class="lb" x="599.3" y="457">动</text>
  <text class="lb" x="599.3" y="474">筛</text>
  <text class="lb" x="213.3" y="472">焦炭外售或</text>
  <text class="lb" x="213.3" y="492">内部循环使用</text>
  <text class="lb" x="38" y="463.5" textLength="10.5" lengthAdjust="spacingAndGlyphs">≥</text><text class="lb lt" x="51.5" y="463.5" textLength="38.5" lengthAdjust="spacingAndGlyphs">25mm</text><text class="lb lt" x="91.8" y="463.5">(</text><text class="lb" x="98.5" y="463.5">焦炭</text><text class="lb lt" x="131.2" y="463.5">)</text>
  <text class="lb lt" x="24.8" y="505" textLength="65.2" lengthAdjust="spacingAndGlyphs">10~25mm</text><text class="lb lt" x="91.8" y="505">(</text><text class="lb" x="98.5" y="505">小焦</text><text class="lb lt" x="131.2" y="505">)</text>
  <text class="lb" x="38" y="546.5" textLength="10.5" lengthAdjust="spacingAndGlyphs">≤</text><text class="lb lt" x="51.5" y="546.5" textLength="38.5" lengthAdjust="spacingAndGlyphs">10mm</text><text class="lb lt" x="91.8" y="546.5">(</text><text class="lb" x="98.5" y="546.5">焦粉</text><text class="lb lt" x="131.2" y="546.5">)</text>
  <text class="lb" x="362.3" y="559.5">焦仓</text>
  <text class="lb" x="691.5" y="555.5">筛焦楼</text>
  <text class="lb" x="969.5" y="555.5">刮板机</text>
</g>
</svg>
</body>
</html>
